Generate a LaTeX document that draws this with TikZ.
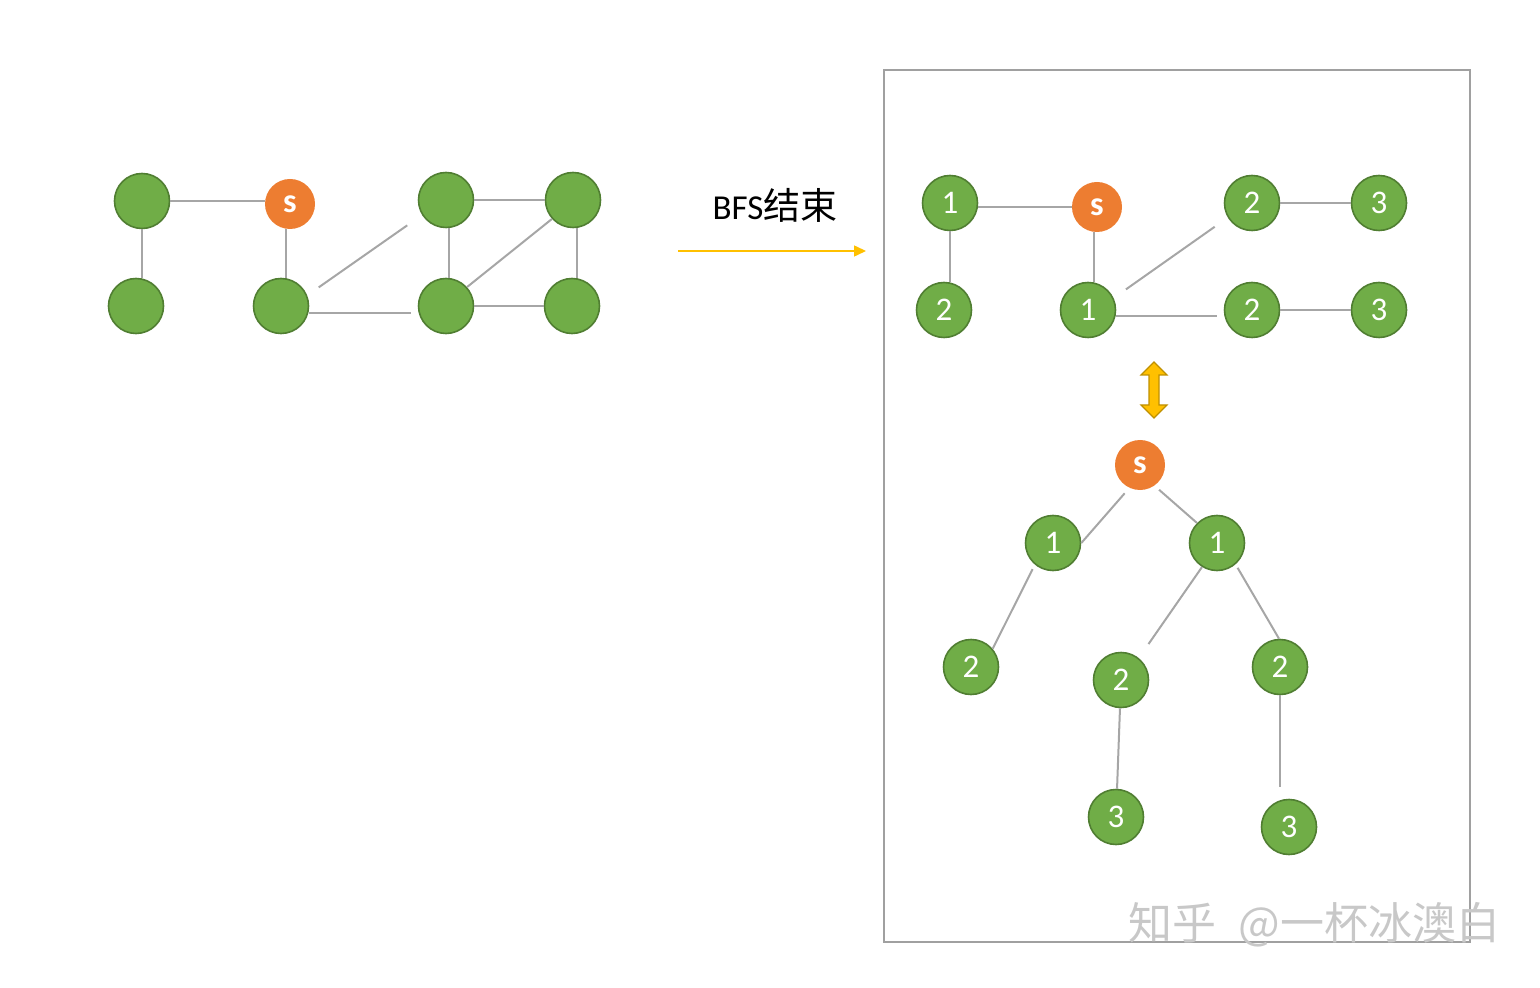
\documentclass[tikz,border=0pt]{standalone}
\usepackage{fontspec}
\setmainfont{Carlito}
\newfontfamily\cjk{Noto Sans CJK SC}
\usetikzlibrary{arrows.meta}
\definecolor{gfill}{HTML}{70AD47}
\definecolor{gline}{HTML}{507E32}
\definecolor{ofill}{HTML}{ED7D31}
\definecolor{edgec}{HTML}{A6A6A6}
\definecolor{gold}{HTML}{FFC000}
\definecolor{goldline}{HTML}{BF9000}
\definecolor{boxc}{HTML}{A0A0A0}
\definecolor{wm}{HTML}{C8C8C8}
\begin{document}
\begin{tikzpicture}[x=0.5pt,y=-0.5pt,
  gnode/.style={circle,fill=gfill,draw=gline,line width=0.8pt,minimum size=27.5pt,inner sep=0pt,text=white,font=\fontsize{16.5}{18}\selectfont},
  snode/.style={circle,fill=ofill,minimum size=25pt,inner sep=0pt,text=white,font=\fontsize{17}{18}\selectfont\bfseries},
  edge/.style={draw=edgec,line width=1pt},
  flow/.style={draw=gold,line width=0.75pt,-{Triangle[length=6pt,width=5.5pt]}},
  dbl/.style={fill=gold,draw=goldline,line width=0.6pt,line join=miter},
  frame/.style={draw=boxc,line width=0.75pt},
]
\useasboundingbox (0,0) rectangle (1540,988);

% ---------- left graph ----------
\node[gnode] (A) at (142,201) {};
\node[gnode] (B) at (136,306) {};
\node[snode] (S) at (290,204) {s};
\node[gnode] (C) at (281,306) {};
\node[gnode] (D) at (446,200) {};
\node[gnode] (E) at (573,200) {};
\node[gnode] (F) at (446,306) {};
\node[gnode] (G) at (572,306) {};

\draw[edge] (A.east) -- (A.east -| S.west);
\draw[edge] (A.south) -- (A.south |- B.north);
\draw[edge] ([xshift=-2pt]S.south) -- ([xshift=-2pt]S.south |- C.north);
\draw[edge,shorten <=7pt,shorten >=9pt] (C.22) -- (D.212);
\draw[edge,shorten >=3.5pt] ([yshift=-3.5pt]C.east) -- ([yshift=-3.5pt]C.east -| F.west);
\draw[edge] ([xshift=1.5pt]D.south) -- ([xshift=1.5pt]D.south |- F.north);
\draw[edge] (D.east) -- (D.east -| E.west);
\draw[edge] (F.42) -- (E.222);
\draw[edge] ([xshift=2pt]E.south) -- ([xshift=2pt]E.south |- G.north);
\draw[edge] (F.east) -- (F.east -| G.west);

% ---------- arrow and label ----------
\coordinate (a0) at (678,251);
\coordinate (a1) at (866,251);
\draw[flow] (a0) -- (a1);
\node (lbl) at (775,205) {\fontsize{17.5}{20}\selectfont BFS{\cjk\fontsize{18.5}{20}\selectfont 结束}};

% ---------- frame ----------
\draw[frame] (884,70) rectangle (1470,942);

% ---------- right graph ----------
\node[gnode] (R1) at (950,203) {1};
\node[snode] (RS) at (1097,207) {s};
\node[gnode] (R2a) at (1252,203) {2};
\node[gnode] (R3a) at (1379,203) {3};
\node[gnode] (R2b) at (944,310) {2};
\node[gnode] (R1b) at (1088,310) {1};
\node[gnode] (R2c) at (1252,310) {2};
\node[gnode] (R3b) at (1379,310) {3};

\draw[edge] (RS.west -| R1.east) -- (RS.west);
\draw[edge] (R1.south) -- (R1.south |- R2b.north);
\draw[edge] ([xshift=-1.5pt]RS.south) -- ([xshift=-1.5pt]RS.south |- R1b.north);
\draw[edge,shorten <=7.5pt,shorten >=8pt] (R1b.25) -- (R2a.211);
\draw[edge,shorten >=3.5pt] ([yshift=-3pt]R1b.east) -- ([yshift=-3pt]R1b.east -| R2c.west);
\draw[edge] (R2a) -- (R3a);
\draw[edge] (R2c) -- (R3b);

% ---------- double arrow ----------
\draw[dbl] (1154,362) -- (1167,375) -- (1159,375) -- (1159,405) -- (1167,405)
  -- (1154,418) -- (1141,405) -- (1149,405) -- (1149,375) -- (1141,375) -- cycle;

% ---------- tree ----------
\node[snode] (TS) at (1140,465) {s};
\node[gnode] (T1a) at (1053,543) {1};
\node[gnode] (T1b) at (1217,543) {1};
\node[gnode] (T2a) at (971,667) {2};
\node[gnode] (T2b) at (1121,680) {2};
\node[gnode] (T2c) at (1280,667) {2};
\node[gnode] (T3a) at (1116,817) {3};
\node[gnode] (T3b) at (1289,827) {3};

\draw[edge,shorten >=3.5pt] (T1a.east) -- (TS.245);
\draw[edge,shorten <=3pt] (TS.-55) -- (T1b.135);
\draw[edge,shorten <=2.5pt] (T1a.230) -- (T2a.40);
\draw[edge,shorten >=8.5pt] (T1b.238) -- (T2b.51);
\draw[edge,shorten <=2pt] (T1b.-49) -- (T2c.92);
\draw[edge] (T2b) -- (T3a);
\draw[edge,shorten >=6pt] (T2c.south) -- (T2c.south |- T3b.north);

% ---------- watermark ----------
\node[anchor=west,text=wm,inner sep=0pt] (wmk) at (1128,925)
  {\cjk\fontsize{22}{24}\selectfont 知乎\hspace{0.5em}@一杯冰澳白};
\end{tikzpicture}
\end{document}
